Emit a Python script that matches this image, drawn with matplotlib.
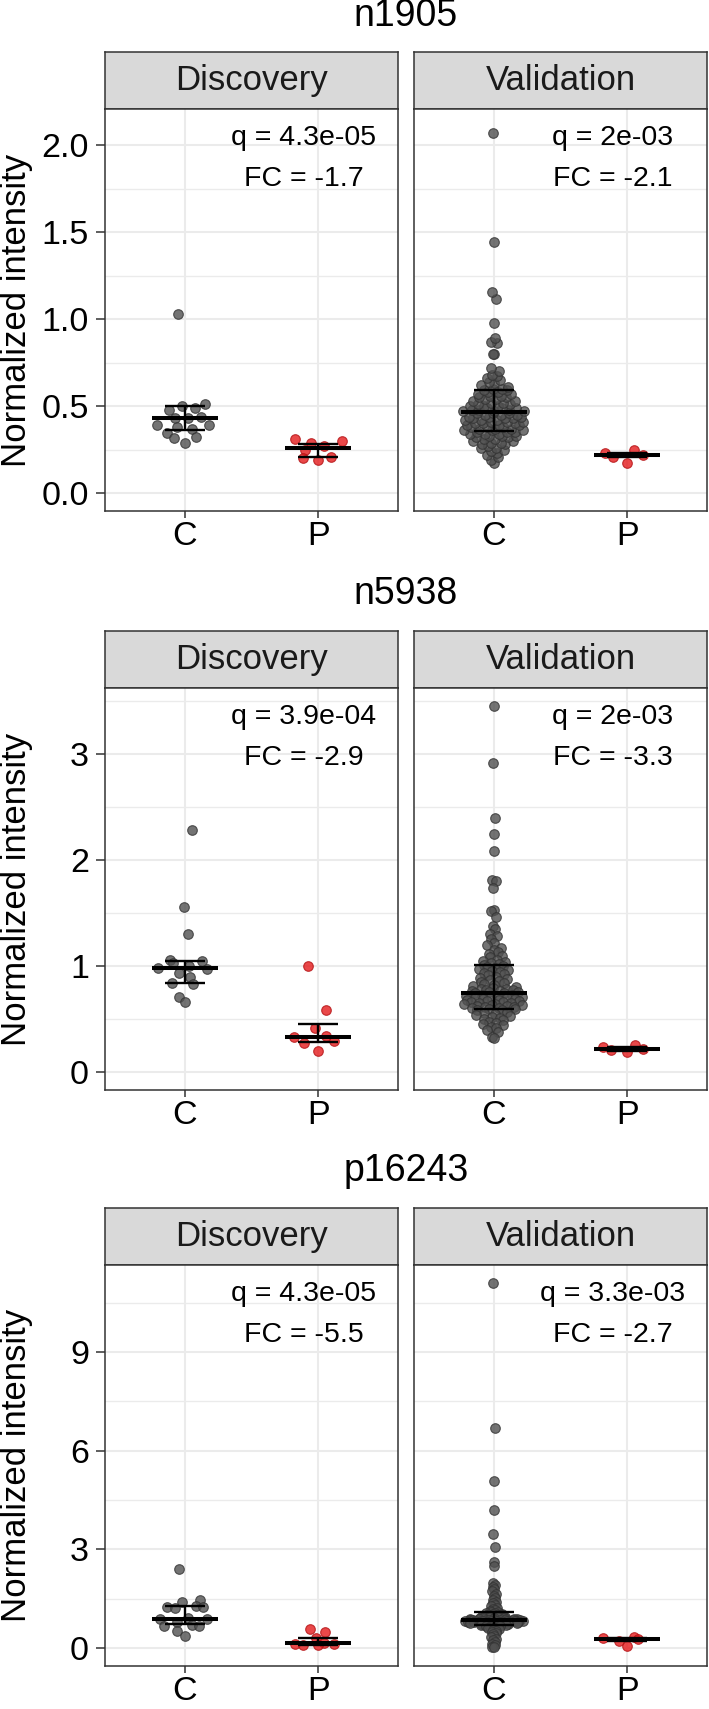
#!/usr/bin/env python3

import numpy as np
import matplotlib

matplotlib.use("Agg")
import matplotlib.pyplot as plt

plt.rcParams["font.family"] = ["Liberation Sans", "DejaVu Sans"]

GENES = ["n1905", "n5938", "p16243"]
COHORTS = ["Discovery", "Validation"]
GROUPS = ["C", "P"]

# values, per gene / cohort / group
n1905_disc_c = [1.03, 0.50, 0.48, 0.51, 0.49, 0.43, 0.44, 0.43, 0.39, 0.38, 0.39, 0.37, 0.345, 0.315, 0.32, 0.29]
n1905_disc_p = [0.31, 0.29, 0.30, 0.27, 0.25, 0.21, 0.19, 0.20]
n1905_val_c = [
    0.17, 0.19, 0.21, 0.22, 0.23, 0.24, 0.25, 0.26, 0.26, 0.27, 0.28, 0.28, 0.29, 0.29, 0.30, 0.30,
    0.31, 0.31, 0.32, 0.32, 0.33, 0.33, 0.33, 0.34, 0.34, 0.34, 0.35, 0.35, 0.35, 0.36, 0.36, 0.36,
    0.37, 0.37, 0.37, 0.38, 0.38, 0.38, 0.39, 0.39, 0.39, 0.40, 0.40, 0.40, 0.41, 0.41, 0.41, 0.42,
    0.42, 0.42, 0.43, 0.43, 0.43, 0.44, 0.44, 0.44, 0.45, 0.45, 0.45, 0.46, 0.46, 0.46, 0.47, 0.47,
    0.47, 0.48, 0.48, 0.48, 0.49, 0.49, 0.49, 0.50, 0.50, 0.50, 0.51, 0.51, 0.52, 0.52, 0.53, 0.53,
    0.54, 0.54, 0.55, 0.55, 0.56, 0.56, 0.57, 0.57, 0.58, 0.58, 0.59, 0.59, 0.60, 0.60, 0.61, 0.62,
    0.63, 0.64, 0.65, 0.66, 0.67, 0.68, 0.70, 0.72, 0.80, 0.80, 0.86, 0.87, 0.89, 0.975, 1.113,
    1.157, 1.444, 2.07,
]
n1905_val_p = [0.25, 0.22, 0.21, 0.23, 0.17]

n5938_disc_c = [2.28, 1.56, 1.30, 1.06, 1.03, 1.05, 1.00, 0.98, 0.97, 0.93, 0.90, 0.84, 0.83, 0.71, 0.66]
n5938_disc_p = [1.00, 0.58, 0.41, 0.33, 0.34, 0.27, 0.29, 0.20]
n5938_val_c = [
    3.45, 2.91, 2.39, 2.24, 2.08, 1.81, 1.80, 1.73, 1.53, 1.52, 1.46, 1.38, 1.35, 1.30, 1.28, 1.25,
    1.22, 1.20, 1.17, 1.15, 1.13, 1.11, 1.09, 1.08, 1.06, 1.05, 1.04, 1.03, 1.02, 1.01, 1.00, 0.99,
    0.98, 0.97, 0.96, 0.95, 0.94, 0.93, 0.92, 0.91, 0.90, 0.89, 0.88, 0.87, 0.86, 0.85, 0.84, 0.83,
    0.82, 0.81, 0.80, 0.79, 0.78, 0.78, 0.77, 0.77, 0.76, 0.76, 0.75, 0.75, 0.74, 0.74, 0.73, 0.73,
    0.72, 0.72, 0.71, 0.71, 0.70, 0.70, 0.69, 0.69, 0.68, 0.68, 0.67, 0.67, 0.66, 0.66, 0.65, 0.65,
    0.64, 0.64, 0.63, 0.63, 0.62, 0.62, 0.61, 0.61, 0.60, 0.60, 0.59, 0.59, 0.58, 0.58, 0.57, 0.56,
    0.55, 0.54, 0.53, 0.52, 0.51, 0.50, 0.49, 0.47, 0.46, 0.45, 0.44, 0.42, 0.41, 0.40, 0.38, 0.33,
    0.32,
]
n5938_val_p = [0.25, 0.21, 0.19, 0.24, 0.22]

p16243_disc_c = [2.40, 1.46, 1.41, 1.28, 1.25, 1.25, 1.20, 0.90, 0.88, 0.88, 0.80, 0.70, 0.66, 0.66, 0.50, 0.37]
p16243_disc_p = [0.57, 0.48, 0.30, 0.16, 0.13, 0.10, 0.08, 0.12]
p16243_val_c = [
    11.08, 6.69, 5.06, 4.18, 3.47, 3.07, 2.60, 2.48, 1.97, 1.90, 1.85, 1.80, 1.72, 1.65, 1.58, 1.52,
    1.46, 1.40, 1.35, 1.30, 1.26, 1.22, 1.18, 1.15, 1.12, 1.10, 1.08, 1.07, 1.05, 1.04, 1.02, 1.01,
    1.00, 0.99, 0.98, 0.97, 0.96, 0.95, 0.94, 0.93, 0.92, 0.91, 0.90, 0.90, 0.89, 0.89, 0.88, 0.88,
    0.87, 0.87, 0.86, 0.86, 0.85, 0.85, 0.85, 0.84, 0.84, 0.84, 0.83, 0.83, 0.83, 0.82, 0.82, 0.82,
    0.81, 0.81, 0.81, 0.80, 0.80, 0.80, 0.79, 0.79, 0.78, 0.78, 0.77, 0.77, 0.76, 0.76, 0.75, 0.75,
    0.74, 0.74, 0.73, 0.72, 0.71, 0.70, 0.69, 0.68, 0.67, 0.66, 0.64, 0.62, 0.60, 0.58, 0.55, 0.52,
    0.49, 0.45, 0.41, 0.37, 0.33, 0.28, 0.23, 0.18, 0.13, 0.08, 0.04, 0.02,
]
p16243_val_p = [0.33, 0.27, 0.20, 0.07, 0.31]

# median, lower quartile, upper quartile as drawn (C then P)
n1905_disc_stats = [(0.43, 0.36, 0.50), (0.257, 0.207, 0.28)]
n1905_val_stats = [(0.467, 0.356, 0.59), (0.218, 0.205, 0.23)]
n5938_disc_stats = [(0.977, 0.84, 1.045), (0.33, 0.285, 0.45)]
n5938_val_stats = [(0.742, 0.594, 1.005), (0.22, 0.20, 0.235)]
p16243_disc_stats = [(0.89, 0.72, 1.26), (0.16, 0.10, 0.30)]
p16243_val_stats = [(0.85, 0.70, 1.09), (0.26, 0.22, 0.30)]

q_labels = [["q = 4.3e-05", "q = 2e-03"], ["q = 3.9e-04", "q = 2e-03"], ["q = 4.3e-05", "q = 3.3e-03"]]
fc_labels = [["FC = -1.7", "FC = -2.1"], ["FC = -2.9", "FC = -3.3"], ["FC = -5.5", "FC = -2.7"]]

y_ticks = [[0.0, 0.5, 1.0, 1.5, 2.0], [0, 1, 2, 3], [0, 3, 6, 9]]
y_tick_labels = [["0.0", "0.5", "1.0", "1.5", "2.0"], ["0", "1", "2", "3"], ["0", "3", "6", "9"]]
y_limits = [(-0.103, 2.207), (-0.17, 3.62), (-0.55, 11.64)]

VALUES = [
    [[n1905_disc_c, n1905_disc_p], [n1905_val_c, n1905_val_p]],
    [[n5938_disc_c, n5938_disc_p], [n5938_val_c, n5938_val_p]],
    [[p16243_disc_c, p16243_disc_p], [p16243_val_c, p16243_val_p]],
]
STATS = [
    [n1905_disc_stats, n1905_val_stats],
    [n5938_disc_stats, n5938_val_stats],
    [p16243_disc_stats, p16243_val_stats],
]

W, H = 709, 1709
TITLE_Y = [16, 594, 1171]
STRIP_TOP = [52, 631, 1208]
STRIP_H = 57
PANEL_BOTTOM = [511, 1090, 1666]
COLS = [(105, 398), (414, 707)]

FILL = {"C": "#505050", "P": "#E41A1C"}
EDGE = {"C": "#333333", "P": "#B31012"}
DARK = "#333333"
GRID = "#EBEBEB"


def vdc(n, base=2):
    v, denom = 0.0, 1.0
    while n:
        n, rem = divmod(n, base)
        denom *= base
        v += rem / denom
    return v


def quasirandom(vals, width):
    """quasirandom x offsets (van der Corput), scaled by local density"""
    vals = np.asarray(vals, dtype=float)
    n = len(vals)
    sd = vals.std(ddof=1)
    iqr = np.subtract(*np.percentile(vals, [75, 25]))
    spread = min(sd, iqr / 1.34) if iqr > 0 else sd
    bw = 0.9 * spread * n ** -0.2 * 0.5
    dens = np.exp(-0.5 * ((vals[:, None] - vals[None, :]) / bw) ** 2).sum(axis=1)
    dens = dens / dens.max()
    offs = np.zeros(n)
    for rank, i in enumerate(np.argsort(vals, kind="stable")):
        offs[i] = (vdc(rank + 1) - 0.5) * 2 * width * dens[i]
    return offs


def px_axes(fig, x0, y0, x1, y1):
    return fig.add_axes([x0 / W, 1 - y1 / H, (x1 - x0) / W, (y1 - y0) / H])


def draw_panel(ax, r, c):
    ax.set_xlim(0.4, 2.6)
    ax.set_ylim(*y_limits[r])
    ax.set_facecolor("white")
    ticks = y_ticks[r]
    step = ticks[1] - ticks[0]
    minor = [t + step / 2 for t in [ticks[0] - step] + ticks if y_limits[r][0] < t + step / 2 < y_limits[r][1]]
    for t in ticks:
        ax.axhline(t, color=GRID, lw=1.5, zorder=0)
    for t in minor:
        ax.axhline(t, color=GRID, lw=1.0, zorder=0)
    for x in (1, 2):
        ax.axvline(x, color=GRID, lw=1.5, zorder=0)

    ax.set_xticks([1, 2])
    ax.set_xticklabels(GROUPS)
    ax.set_yticks(ticks)
    if c == 0:
        ax.set_yticklabels(y_tick_labels[r])
    else:
        ax.tick_params(axis="y", left=False, labelleft=False)
    ax.tick_params(axis="x", length=5, width=1.1, color=DARK, pad=2, labelsize=24.5, labelcolor="black")
    ax.tick_params(axis="y", length=6.5, width=1.1, color=DARK, pad=5, labelsize=24.5, labelcolor="black")
    for sp in ax.spines.values():
        sp.set_color(DARK)
        sp.set_linewidth(1.1)

    for g, (grp, vals) in enumerate(zip(GROUPS, VALUES[r][c])):
        vals = np.asarray(vals, dtype=float)
        offs = quasirandom(vals, 0.24)
        ax.scatter(g + 1 + offs, vals, s=48, facecolor=FILL[grp], edgecolor=EDGE[grp],
                   linewidth=0.8, alpha=0.8, zorder=3)
        med, lo, hi = STATS[r][c][g]
        ax.hlines(med, g + 1 - 0.25, g + 1 + 0.25, color="black", lw=2.9, zorder=4)
        ax.hlines([lo, hi], g + 1 - 0.15, g + 1 + 0.15, color="black", lw=1.7, zorder=4)
        ax.vlines(g + 1, lo, hi, color="black", lw=1.7, zorder=4)

    ax.text(1.89, 0.928, q_labels[r][c], transform=ax.get_xaxis_transform(),
            ha="center", va="center", fontsize=20.5, zorder=5)
    ax.text(1.89, 0.825, fc_labels[r][c], transform=ax.get_xaxis_transform(),
            ha="center", va="center", fontsize=20.5, zorder=5)


def main():
    fig = plt.figure(figsize=(W / 100, H / 100), dpi=100)
    for r, gene in enumerate(GENES):
        fig.text(406 / W, 1 - TITLE_Y[r] / H, gene, ha="center", va="center", fontsize=27)
        top = STRIP_TOP[r] + STRIP_H
        for c, cohort in enumerate(COHORTS):
            x0, x1 = COLS[c]
            strip = px_axes(fig, x0, STRIP_TOP[r], x1, top)
            strip.set_facecolor("#D9D9D9")
            strip.set_xticks([])
            strip.set_yticks([])
            for sp in strip.spines.values():
                sp.set_color(DARK)
                sp.set_linewidth(1.1)
            strip.text(0.5, 0.5, cohort, ha="center", va="center", fontsize=25,
                       color="#1A1A1A", transform=strip.transAxes)
            ax = px_axes(fig, x0, top, x1, PANEL_BOTTOM[r])
            draw_panel(ax, r, c)
        fig.text(17 / W, 1 - (top + PANEL_BOTTOM[r]) / 2 / H, "Normalized intensity",
                 rotation=90, ha="center", va="center", fontsize=25)
    fig.savefig("out.png", dpi=100)
    plt.close(fig)


if __name__ == "__main__":
    main()
